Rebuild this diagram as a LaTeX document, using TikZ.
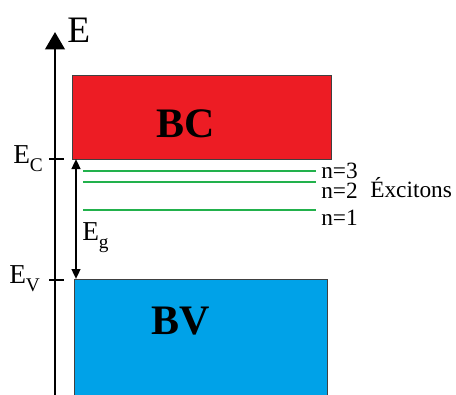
\documentclass[tikz,border=0pt]{standalone}
\usepackage{fontspec}
\setmainfont{Liberation Serif}
\usetikzlibrary{arrows.meta}
\definecolor{bcred}{HTML}{ED1C24}
\definecolor{bvblue}{HTML}{00A2E8}
\definecolor{exgreen}{HTML}{22B14C}
\newcommand{\sublow}[1]{\raisebox{-0.3em}{\fontsize{14.5pt}{14.5pt}\selectfont #1}}
\begin{document}
\begin{tikzpicture}[x=0.75pt,y=-0.75pt,
  band/.style={draw=black!75,line width=0.5pt},
  bandlabel/.style={anchor=base,font=\fontsize{31.5pt}{31.5pt}\selectfont\bfseries,inner sep=0pt},
  level/.style={draw=exgreen,line width=2pt},
  lvllabel/.style={anchor=base west,font=\fontsize{17.5pt}{17.5pt}\selectfont,inner sep=0pt},
  elabel/.style={anchor=base west,font=\fontsize{20.5pt}{20.5pt}\selectfont,inner sep=0pt},
  tick/.style={line width=2.2pt}]
\useasboundingbox (0,0) rectangle (456,394);
% bands
\path[band,fill=bcred] (72,75) rectangle (331,159);
\path[band,fill=bvblue] (74,279) rectangle (327,400);
\node[bandlabel] (bc) at (186,137) {BC};
\node[bandlabel] (bv) at (181,334) {BV};
% axis
\coordinate (axb) at (55,400);
\coordinate (axt) at (55,32);
\draw[line width=2.2pt,-{Triangle[length=13pt,width=14.5pt]}] (axb) -- (axt);
\node[anchor=base west,font=\fontsize{28pt}{28pt}\selectfont,inner sep=0pt] (E) at (67,42) {E};
% ticks
\coordinate (tc1) at (49,159); \coordinate (tc2) at (64,159);
\coordinate (tv1) at (49,280); \coordinate (tv2) at (64,280);
\draw[tick] (tc1) -- (tc2);
\draw[tick] (tv1) -- (tv2);
\node[elabel] (EC) at (13,163) {E\sublow{C}};
\node[elabel] (EV) at (9,283) {E\sublow{V}};
% gap arrow
\coordinate (gt) at (76,159);
\coordinate (gb) at (76,279);
\draw[line width=1.7pt,{Triangle[length=7.5pt,width=6.5pt]}-{Triangle[length=7.5pt,width=6.5pt]}] (gt) -- (gb);
\node[elabel] (Eg) at (82,240) {E\sublow{g}};
% exciton levels
\coordinate (l3a) at (83,171); \coordinate (l3b) at (316,171);
\coordinate (l2a) at (83,182); \coordinate (l2b) at (316,182);
\coordinate (l1a) at (83,210); \coordinate (l1b) at (316,210);
\draw[level] (l3a) -- (l3b);
\draw[level] (l2a) -- (l2b);
\draw[level] (l1a) -- (l1b);
\node[lvllabel] (n3) at (321,178.5) {n=3};
\node[lvllabel] (n2) at (321,198) {n=2};
\node[lvllabel] (n1) at (321,225) {n=1};
\node[lvllabel] (ex) at (370,197) {Éxcitons};
\end{tikzpicture}
\end{document}
